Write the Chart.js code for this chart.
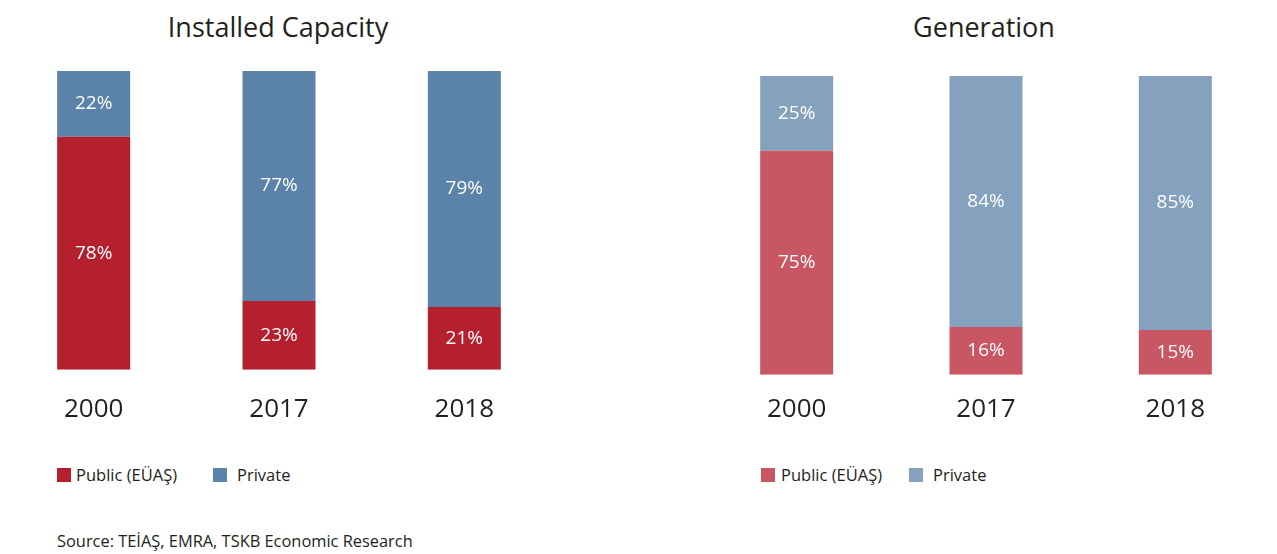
<!DOCTYPE html>
<html>
<head>
<meta charset="utf-8">
<script src="https://cdn.jsdelivr.net/npm/chart.js@4.4.1/dist/chart.umd.min.js"></script>
<style>
  html, body { margin: 0; padding: 0; background: #ffffff; }
  body { width: 1277px; height: 554px; position: relative; overflow: hidden; font-family: "Open Sans", sans-serif; color: #231f20; }
  .title { position: absolute; font-size: 27px; text-align: center; width: 400px; line-height: 30px; }
  .chart { position: absolute; }
  .leg { position: absolute; font-size: 16.5px; line-height: 20px; }
  .box { position: absolute; width: 14px; height: 14px; }
  .src { position: absolute; left: 57px; top: 531px; font-size: 16.4px; line-height: 20px; }
</style>
</head>
<body>
<div class="title" style="left:78px; top:12px;">Installed Capacity</div>
<div class="title" style="left:784px; top:12px;">Generation</div>

<div class="chart" style="left:1px; top:71px; width:556px; height:378px;"><canvas id="c1"></canvas></div>
<div class="chart" style="left:702px; top:76px; width:568px; height:368px;"><canvas id="c2"></canvas></div>

<div class="box" style="left:57px; top:468px; background:#b5202e;"></div>
<div class="leg" style="left:76px; top:465px;">Public (EÜAŞ)</div>
<div class="box" style="left:213px; top:468px; background:#5b82a8;"></div>
<div class="leg" style="left:237px; top:465px;">Private</div>

<div class="box" style="left:761px; top:468px; background:#c85763;"></div>
<div class="leg" style="left:781px; top:465px;">Public (EÜAŞ)</div>
<div class="box" style="left:909px; top:468px; background:#84a2be;"></div>
<div class="leg" style="left:933px; top:465px;">Private</div>

<div class="src">Source: TEİAŞ, EMRA, TSKB Economic Research</div>

<script>
const years = ["2000", "2017", "2018"];
const capacityPublic = [78, 23, 21];
const capacityPrivate = [22, 77, 79];
const generationPublic = [75, 16, 15];
const generationPrivate = [25, 84, 85];

const labelPlugin = {
  id: 'segLabels',
  afterDatasetsDraw(chart) {
    const ctx = chart.ctx;
    ctx.save();
    ctx.fillStyle = '#ffffff';
    ctx.font = '19px "Open Sans"';
    ctx.textAlign = 'center';
    ctx.textBaseline = 'middle';
    chart.data.datasets.forEach((ds, i) => {
      const meta = chart.getDatasetMeta(i);
      meta.data.forEach((bar, j) => {
        const top = Math.min(bar.y, bar.base);
        const bot = Math.max(bar.y, bar.base);
        ctx.fillText(ds.data[j] + '%', bar.x, (top + bot) / 2);
      });
    });
    ctx.restore();
  }
};

function makeChart(id, pub, priv, colPub, colPriv, barPct, pad) {
  return new Chart(document.getElementById(id), {
    type: 'bar',
    data: {
      labels: years,
      datasets: [
        { label: 'Public (EÜAŞ)', data: pub, backgroundColor: colPub, barPercentage: barPct, categoryPercentage: 1 },
        { label: 'Private', data: priv, backgroundColor: colPriv, barPercentage: barPct, categoryPercentage: 1 }
      ]
    },
    options: {
      responsive: true,
      maintainAspectRatio: false,
      animation: false,
      layout: { padding: { top: 0, bottom: 0, left: 0, right: 0 } },
      plugins: { legend: { display: false }, title: { display: false }, tooltip: { enabled: false } },
      scales: {
        x: {
          stacked: true,
          grid: { display: false, drawTicks: false },
          border: { display: false },
          ticks: { color: '#231f20', font: { family: 'Open Sans', size: 26 }, padding: pad }
        },
        y: { stacked: true, display: false, min: 0, max: 100 }
      }
    },
    plugins: [labelPlugin]
  });
}

makeChart('c1', capacityPublic, capacityPrivate, '#b5202e', '#5b82a8', 73 / 185.33, 24);
makeChart('c2', generationPublic, generationPrivate, '#c85763', '#84a2be', 73 / 189.33, 19);
</script>
</body>
</html>
